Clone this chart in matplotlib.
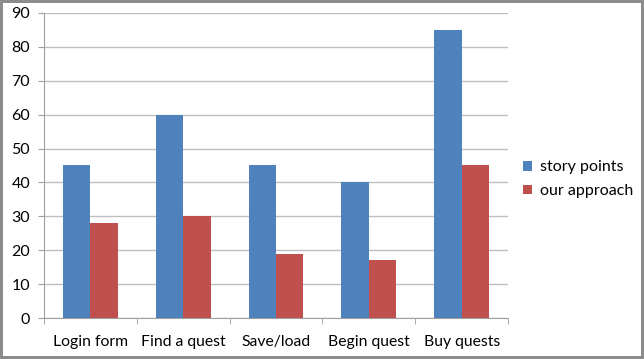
import matplotlib
matplotlib.use("Agg")
import matplotlib.pyplot as plt
import numpy as np

categories = ["Login form", "Find a quest", "Save/load", "Begin quest", "Buy quests"]
story_points = [45, 60, 45, 40, 85]
our_approach = [28, 30, 19, 17, 45]
series_names = ["story points", "our approach"]
yticks = [0, 10, 20, 30, 40, 50, 60, 70, 80, 90]

plt.rcParams['font.family'] = ['Lato', 'DejaVu Sans']

fig = plt.figure(figsize=(6.44, 3.59), dpi=100)
fig.patch.set_facecolor('white')
fig.patch.set_edgecolor('#8c8c8c')
fig.patch.set_linewidth(3)
ax = fig.add_axes([0.0683, 0.1142, 0.7207, 0.8496])

x = np.arange(len(categories))
w = 0.295
ax.bar(x - w/2, story_points, w, color='#4f81bd', label=series_names[0], zorder=3)
ax.bar(x + w/2, our_approach, w, color='#c0504d', label=series_names[1], zorder=3)

ax.set_xlim(-0.5, len(categories) - 0.5)
ax.set_ylim(0, 90)
ax.set_yticks(yticks)
ax.set_yticklabels([str(v) for v in yticks], fontsize=11.5)
ax.yaxis.grid(True, color='#bfbfbf', linewidth=1, zorder=0)
ax.set_axisbelow(True)

ax.set_xticks(x)
ax.set_xticklabels(categories, fontsize=11.3)
ax.tick_params(axis='x', length=0, pad=12)
ax.set_xticks(np.arange(-0.5, len(categories)), minor=True)
ax.tick_params(axis='x', which='minor', length=4, color='#a0a0a0')
ax.tick_params(axis='y', length=4, color='#a0a0a0', pad=6)

for s in ['top', 'right']:
    ax.spines[s].set_visible(False)
ax.spines['left'].set_color('#a0a0a0')
ax.spines['bottom'].set_color('#a0a0a0')

ax.legend(loc='center left', bbox_to_anchor=(1.032, 0.455), frameon=False,
          fontsize=11.5, handlelength=0.55, handleheight=0.55, handletextpad=0.5,
          labelspacing=0.6, borderaxespad=0, borderpad=0)

fig.savefig('out.png', dpi=100, facecolor=fig.get_facecolor(), edgecolor=fig.get_edgecolor())
